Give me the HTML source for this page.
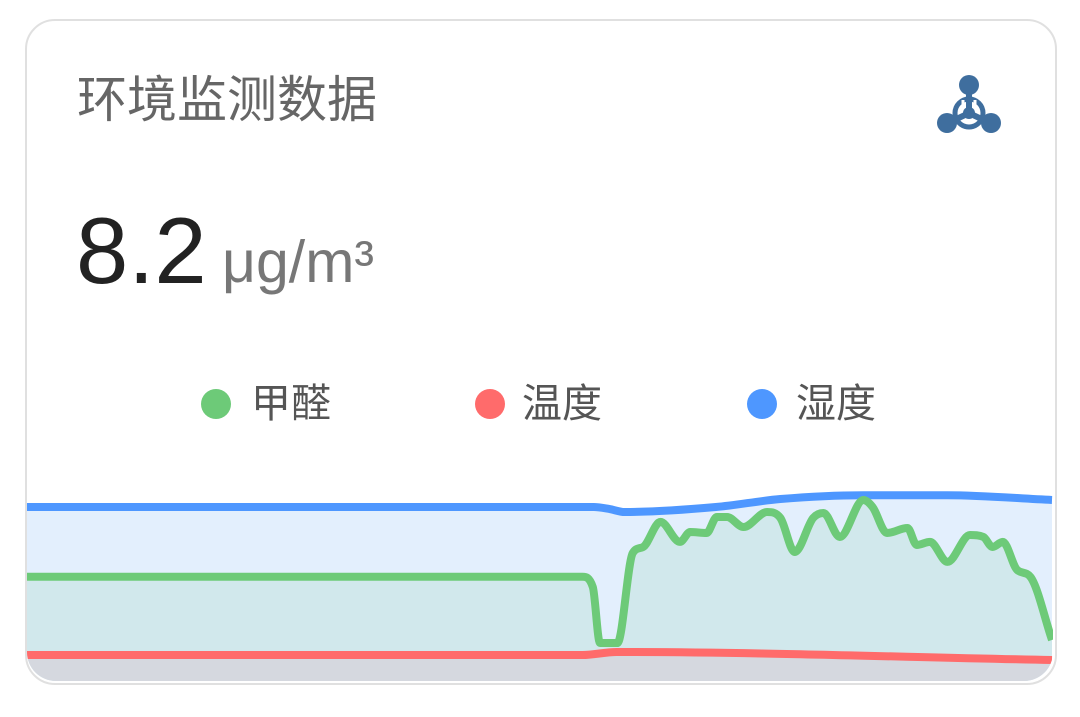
<!DOCTYPE html>
<html><head><meta charset="utf-8"><style>
html,body{margin:0;padding:0;background:#fff;width:1080px;height:717px;overflow:hidden}
#card{position:absolute;left:25px;top:19px;width:1028px;height:662px;border:2px solid #e0e0e0;border-radius:30px;overflow:hidden;background:#fff}
.t{position:absolute;font-family:"Liberation Sans","Noto Sans CJK SC",sans-serif;white-space:nowrap;line-height:1}
</style></head><body>
<div id="card"></div>
<div class="t" style="left:77px;top:75px;font-size:50px;color:#666">环境监测数据</div>
<svg style="position:absolute;left:930px;top:70px" width="80" height="70" viewBox="930 70 80 70">
<g fill="#3f6e9e" stroke="#3f6e9e">
<line x1="969" y1="88" x2="969" y2="108" stroke-width="6"/><line x1="948" y1="123" x2="965" y2="115" stroke-width="6"/><line x1="990" y1="123" x2="973" y2="115" stroke-width="6"/>
<circle cx="969" cy="85" r="10" stroke="none"/><circle cx="947" cy="123" r="10" stroke="none"/><circle cx="991" cy="123" r="10" stroke="none"/>
<circle cx="969" cy="113" r="14" fill="none" stroke-width="5"/><circle cx="969" cy="113" r="6" stroke="none"/></g>
<g stroke="#fff" stroke-width="3"><line x1="963" y1="100" x2="963" y2="104"/><line x1="975" y1="100" x2="975" y2="104"/></g>
</svg>
<div class="t" style="left:76px;top:204px;font-size:94px;color:#222">8.2</div>
<div class="t" style="left:222px;top:233px;font-size:59px;color:#777">μg/m³</div>
<div>
<div style="position:absolute;left:201px;top:389px;width:30px;height:30px;border-radius:50%;background:#6dca78"></div>
<div class="t" style="left:251px;top:384px;font-size:40px;color:#555">甲醛</div>
<div style="position:absolute;left:475px;top:389px;width:30px;height:30px;border-radius:50%;background:#ff6b6b"></div>
<div class="t" style="left:522px;top:384px;font-size:40px;color:#555">温度</div>
<div style="position:absolute;left:747px;top:389px;width:30px;height:30px;border-radius:50%;background:#4e97ff"></div>
<div class="t" style="left:796px;top:384px;font-size:40px;color:#555">湿度</div>
</div>
<svg id="chart" style="position:absolute;left:0;top:0" width="1080" height="717">
<defs><clipPath id="cc"><rect x="27" y="21" width="1026" height="660" rx="29"/></clipPath></defs>
<g id="plot" clip-path="url(#cc)"></g>
</svg>
<script>
const greenT=[0,54.2,55.2,55.9,57.6,59.1,60.1,61.8,63.7,64.7,66.3,67.3,68.3,69.9,72.2,73.5,74.9,76.7,77.7,79.3,81.6,82.5,83.9,85.9,86.8,88.1,89.8,92,93.3,94.2,95.2,96.6,97.9,100];
const greenV=[52,52,45.6,10.6,10.6,66.9,70.6,86.3,73.8,80,79.4,89.4,89.4,83.1,92.5,88.8,67.5,88.8,91.9,76.9,100,95.6,79.4,82.5,71.9,73.8,61.3,78.1,76.9,70.6,73.8,56.3,51.9,12.5];
const blueT=[0,55.3,56.8,58.3,67.2,73.5,81.6,89.8,100];
const blueV=[95.6,95.6,94.4,92.5,95.6,100.6,103,103,100];
const redT=[0,54.2,57.5,100];
const redV=[3.1,3.1,5,0];
const xS=t=>27+t*10.25;
const yS=v=>660-v*1.6;
const NS='http://www.w3.org/2000/svg';
function pathD(T,V){
 const x=T.map(xS),y=V.map(yS),n=x.length;
 const d=[],m=new Array(n);
 for(let i=0;i<n-1;i++)d.push((y[i+1]-y[i])/(x[i+1]-x[i]));
 m[0]=d[0];m[n-1]=d[n-2];
 for(let i=1;i<n-1;i++){m[i]=(d[i-1]*d[i]<=0)?0:(d[i-1]+d[i])/2;}
 for(let i=0;i<n-1;i++){
  if(d[i]===0){m[i]=0;m[i+1]=0;continue;}
  const a=m[i]/d[i],b=m[i+1]/d[i],s=a*a+b*b;
  if(s>9){const tt=3/Math.sqrt(s);m[i]=tt*a*d[i];m[i+1]=tt*b*d[i];}
 }
 let p='M'+x[0]+','+y[0];
 for(let i=0;i<n-1;i++){
  const h=(x[i+1]-x[i])/3;
  p+=' C'+(x[i]+h)+','+(y[i]+m[i]*h)+' '+(x[i+1]-h)+','+(y[i+1]-m[i+1]*h)+' '+x[i+1]+','+y[i+1];
 }
 return p;
}
const g=document.getElementById('plot');
function add(tag,attrs){const e=document.createElementNS(NS,tag);for(const k in attrs)e.setAttribute(k,attrs[k]);g.appendChild(e);return e;}
const close=' L'+xS(100)+',690 L'+xS(0)+',690 Z';
let e;
e=add('path',{d:pathD(blueT,blueV)+close,fill:'#e3effd'});


e=add('path',{d:pathD(greenT,greenV)+close,fill:'#d1e8ec'});


e=add('path',{d:pathD(redT,redV)+close,fill:'#d5d8df'});


e=add('path',{d:pathD(blueT,blueV),fill:'none',stroke:'#4e97ff','stroke-width':8});


e=add('path',{d:pathD(greenT,greenV),fill:'none',stroke:'#6dca78','stroke-width':8,'stroke-linejoin':'round'});


e=add('path',{d:pathD(redT,redV),fill:'none',stroke:'#ff6b6b','stroke-width':8});


</script>
</body></html>
